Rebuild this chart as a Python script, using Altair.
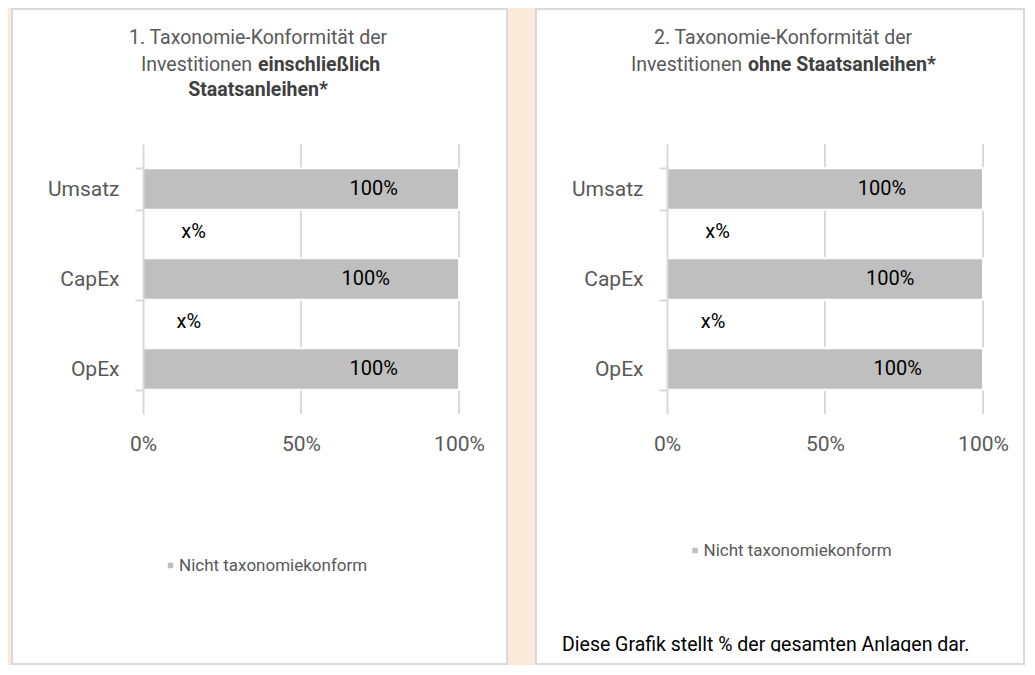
import altair as alt
import pandas as pd

# ---------------- data ----------------
categories = ["Umsatz", "CapEx", "OpEx"]
series_name = "Nicht taxonomiekonform"
values_incl = [1.0, 1.0, 1.0]          # panel 1: including sovereign bonds
values_excl = [1.0, 1.0, 1.0]          # panel 2: excluding sovereign bonds
bar_labels = ["100%", "100%", "100%"]
conform_categories = ["Umsatz", "CapEx"]
conform_labels = ["x%", "x%"]
tick_values = [0, 0.5, 1.0]
grid_values = [0.5, 1.0]

# where the value labels sit along the axis (fraction of axis)
label_x_incl = [0.73, 0.705, 0.73]
label_x_excl = [0.68, 0.706, 0.73]
conform_x_incl = [0.16, 0.145]
conform_x_excl = [0.16, 0.146]

title1_lines = ["1. Taxonomie-Konformität der", "Investitionen", "einschließlich", "Staatsanleihen*"]
title2_lines = ["2. Taxonomie-Konformität der", "Investitionen", "ohne Staatsanleihen*"]
footnote = "Diese Grafik stellt % der gesamten Anlagen dar."

# ---------------- style ----------------
W, H = 316, 270
PEACH = "#fbe9d9"
GRAY = "#595959"
DARK = "#404040"
GRID = "#d9d9d9"
BAR = "#bfbfbf"
FONT = "Roboto"
one = pd.DataFrame({"k": [0]})

xscale = alt.Scale(domain=[0, 1], nice=False, zero=True)
yscale = alt.Scale(paddingInner=0.54, paddingOuter=0.27)
xaxis = alt.Axis(values=tick_values, format="%", title=None, grid=False,
                 domain=False, ticks=False, zindex=1,
                 labelFontSize=21, labelColor=GRAY, labelFont=FONT,
                 labelPadding=19, labelFlush=False)
yaxis = alt.Axis(title=None, tickBand="extent", domainColor=GRID, domainWidth=2,
                 tickColor=GRID, tickWidth=2, tickSize=8, labelFontSize=21,
                 labelColor=GRAY, labelFont=FONT, labelPadding=16, grid=False, zindex=1)


def txt(x, y, s, size=19.5, bold=False, align="center", color=GRAY, baseline="middle"):
    return alt.Chart(one).mark_text(
        text=s, fontSize=size, font=FONT, fontWeight="bold" if bold else "normal",
        align=align, baseline=baseline, color=color,
    ).encode(x=alt.value(x), y=alt.value(y))


def panel(values, label_x, conform_x, legend_xy, panel_x, extra_layers, pre_layers):
    bars_df = pd.DataFrame({"cat": categories, "value": values, "series": [series_name] * 3})
    lab_df = pd.DataFrame({"cat": categories, "value": label_x, "lab": bar_labels})
    con_df = pd.DataFrame({"cat": conform_categories, "value": conform_x, "lab": conform_labels})
    grid_df = pd.DataFrame({"value": grid_values, "cat": ["Umsatz", "Umsatz"]})

    X = alt.X("value:Q", scale=xscale, axis=xaxis)
    Y = alt.Y("cat:N", sort=categories, scale=yscale, axis=yaxis)

    white = alt.Chart(one).mark_rect(fill="white", stroke=GRID, strokeWidth=2).encode(
        x=alt.value(panel_x[0]), x2=alt.value(panel_x[1]),
        y=alt.value(-135), y2=alt.value(520),
    )

    grid = alt.Chart(grid_df).mark_rule(color=GRID, strokeWidth=2).encode(
        x=X, y=alt.value(0), y2=alt.value(H),
    )

    bars = alt.Chart(bars_df).mark_bar(stroke="white", strokeWidth=2).encode(
        x=X, y=Y,
        color=alt.Color("series:N", scale=alt.Scale(domain=[series_name], range=[BAR]),
                        legend=alt.Legend(orient="none", legendX=legend_xy[0], legendY=legend_xy[1],
                                          title=None, symbolType="square", symbolSize=30,
                                          symbolStrokeWidth=0, labelFontSize=17, labelColor=GRAY,
                                          labelFont=FONT, labelOffset=0, padding=0, labelLimit=400)),
    )

    labels = alt.Chart(lab_df).mark_text(fontSize=20, font=FONT, color="black",
                                         baseline="middle").encode(x=X, y=Y, text="lab:N")
    conform = alt.Chart(con_df).mark_text(fontSize=20, font=FONT, color="black",
                                          baseline="middle", dy=43).encode(x=X, y=Y, text="lab:N")
    return alt.layer(*pre_layers, white, grid, bars, labels, conform, *extra_layers).properties(
        width=W, height=H)


bg = alt.Chart(one).mark_rect(fill=PEACH).encode(
    x=alt.value(-135), x2=alt.value(882), y=alt.value(-136), y2=alt.value(521))

left_titles = [
    txt(115, -106, title1_lines[0]),
    txt(109, -79, title1_lines[1], align="right"),
    txt(115, -79, title1_lines[2], bold=True, align="left", color=DARK),
    txt(115, -54, title1_lines[3], bold=True, color=DARK),
]
right_titles = [
    txt(116, -106, title2_lines[0]),
    txt(75, -79, title2_lines[1], align="right"),
    txt(81, -79, title2_lines[2], bold=True, align="left", color=DARK),
]
foot = [
    txt(-105, 507, footnote, size=19.5, align="left", color="black", baseline="alphabetic"),
    alt.Chart(one).mark_rect(fill="white").encode(
        x=alt.value(-125), x2=alt.value(340), y=alt.value(508), y2=alt.value(519)),
]

left = panel(values_incl, label_x_incl, conform_x_incl, (19, 413), (-131, 364), left_titles, [bg])
right = panel(values_excl, label_x_excl, conform_x_excl, (19.5, 398), (-131, 357), right_titles + foot, [])

chart = alt.hconcat(left, right, spacing=208, bounds="flush").resolve_scale(
    color="independent").resolve_legend(color="independent").properties(
    padding=0).configure(background=PEACH).configure_view(strokeWidth=0)

chart.save("out.html", embed_options={"renderer": "svg", "actions": False})
